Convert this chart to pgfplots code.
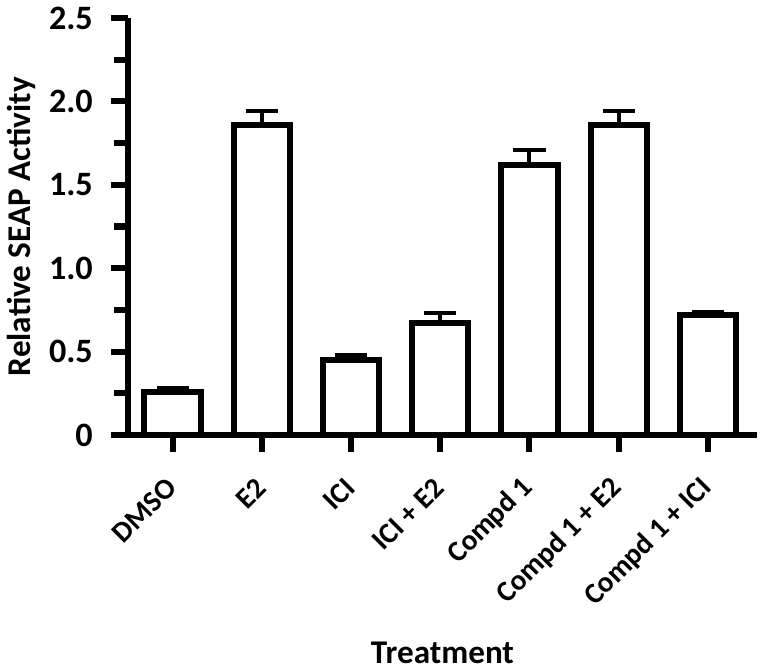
\documentclass[border=0pt]{standalone}
\usepackage{pgfplots}
\pgfplotsset{compat=1.18}
\usepackage{fontspec}
\setmainfont{Carlito}
\begin{document}
\begin{tikzpicture}
\begin{axis}[
  scale only axis,
  width=313pt, height=207.5pt,
  xmin=-0.5, xmax=6.55,
  ymin=0, ymax=2.5,
  axis lines=left,
  axis line style={-, line width=3pt, black},
  ybar, bar width=28pt,
  xtick={0,1,2,3,4,5,6},
  xticklabels={DMSO, E2, ICI, ICI + E2, Compd 1, Compd 1 + E2, Compd 1 + ICI},
  ytick={0,0.5,1,1.5,2,2.5},
  yticklabels={0,0.5,1.0,1.5,2.0,2.5},
  minor ytick={0.25,0.75,1.25,1.75,2.25},
  tick align=outside,
  major tick length=8.5pt, minor tick length=7pt,
  tick style={line width=3pt, black},
  /pgf/number format/assume math mode=true,
  yticklabel style={font=\bfseries\fontsize{17}{19}\selectfont, xshift=-5.5pt},
  xticklabel style={font=\bfseries\fontsize{14.5}{16}\selectfont, yshift=-13pt, xshift=2pt, rotate=45, anchor=east},
  label style={font=\bfseries\fontsize{16.5}{18}\selectfont},
  ylabel={Relative SEAP Activity},
  xlabel={Treatment},
  xlabel style={yshift=-8pt},
  ylabel style={yshift=0pt},
  clip=false,
]
\addplot[fill=white, draw=black, line width=3pt,
  error bars/.cd, y dir=plus, y explicit,
  error bar style={line width=2pt, black},
  error mark options={rotate=90, mark size=8pt, line width=2pt, black}]
  table[x=x, y=y, y error=e] {
x y e
0 0.256 0.025
1 1.860 0.085
2 0.450 0.030
3 0.670 0.060
4 1.620 0.090
5 1.860 0.085
6 0.720 0.020
};
\end{axis}
\end{tikzpicture}
\end{document}
